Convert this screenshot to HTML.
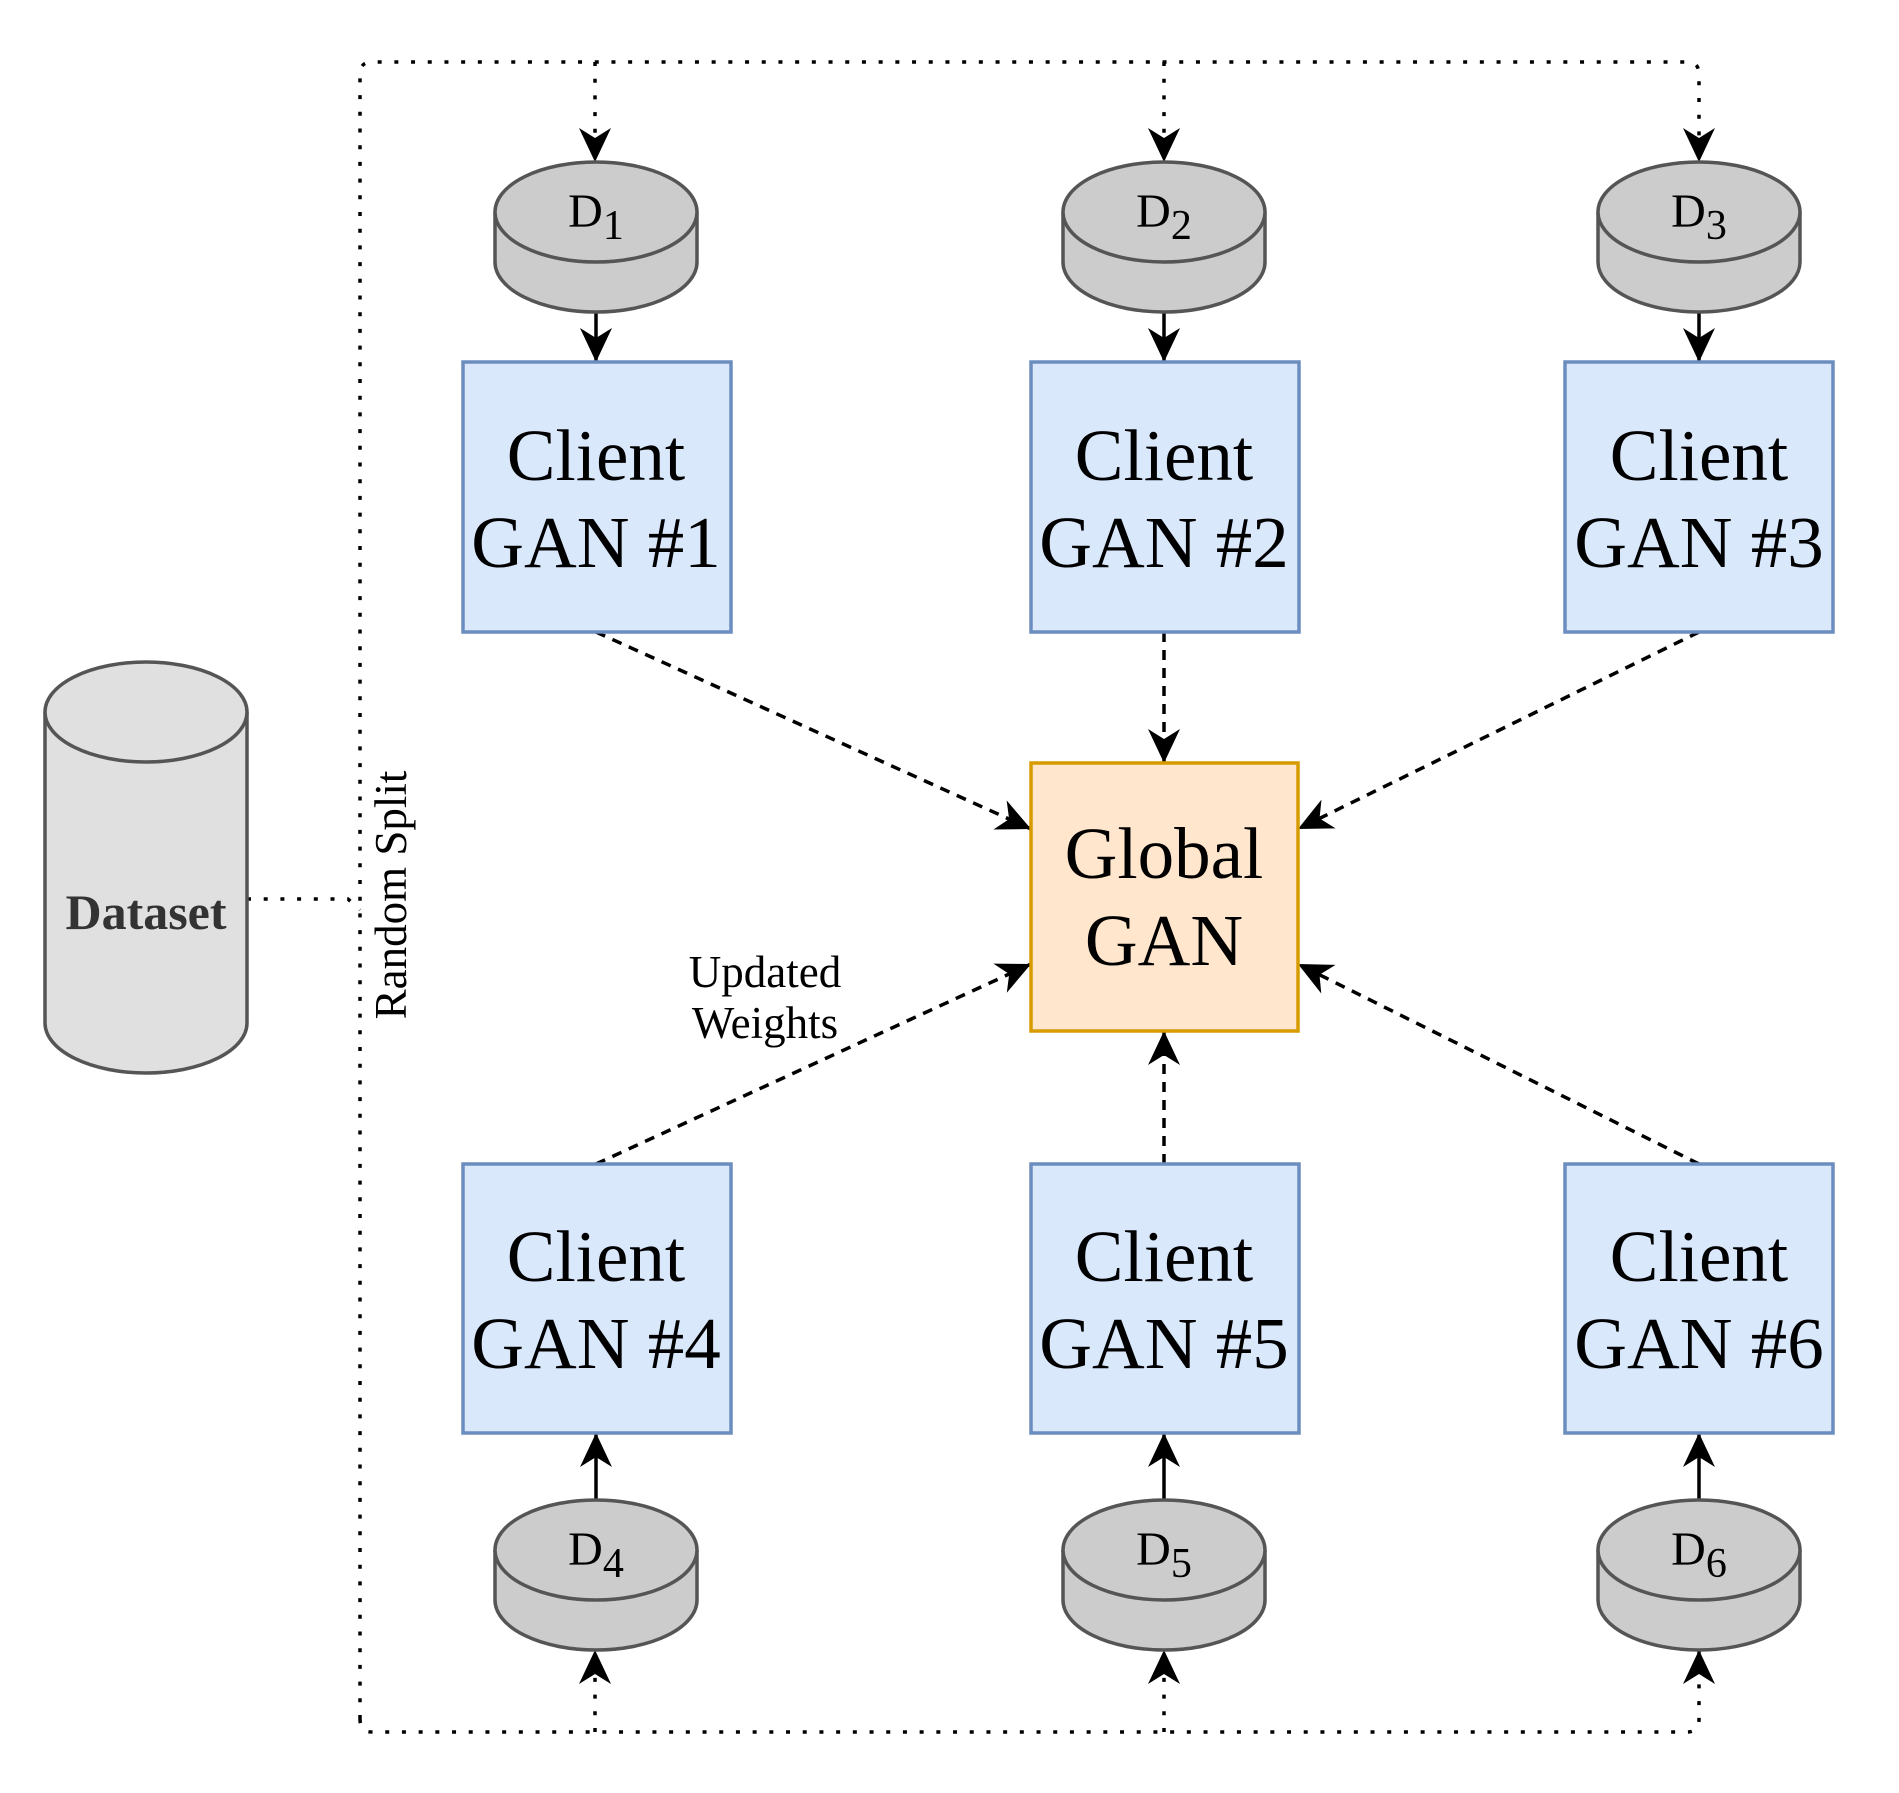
<!DOCTYPE html>
<html><head><meta charset="utf-8"><style>html,body{margin:0;padding:0;background:#fff}svg{display:block}</style></head>
<body>
<svg width="1899" height="1793" viewBox="0 0 1899 1793" xmlns="http://www.w3.org/2000/svg" font-family="'Liberation Serif', serif">
<defs>
<marker id="a" markerUnits="userSpaceOnUse" markerWidth="40" markerHeight="40" refX="34" refY="17" orient="auto">
<path d="M0,1 L34,17 L0,33 L10,17 Z" fill="#000"/>
</marker>
</defs>
<g fill="none" stroke="#000" stroke-width="3.5" stroke-dasharray="4 12.7">
<path d="M595,62 V162" marker-end="url(#a)"/>
<path d="M1164,62 V162" marker-end="url(#a)"/>
<path d="M360,1719 V74 Q360,62 372,62 H1687 Q1699,62 1699,74 V162" marker-end="url(#a)"/>
<path d="M360,1719 Q360,1732 372,1732 H1687 Q1699,1732 1699,1720 V1650" marker-end="url(#a)"/>
<path d="M595,1732 V1650" marker-end="url(#a)"/>
<path d="M1164,1732 V1650" marker-end="url(#a)"/>
<path d="M247,899 H348 L360,910"/>
</g>
<g stroke="#000" stroke-width="3.5" fill="none">
<path d="M596,312 V362" marker-end="url(#a)"/>
<path d="M1164,312 V362" marker-end="url(#a)"/>
<path d="M1699,312 V362" marker-end="url(#a)"/>
<path d="M596,1500 V1433" marker-end="url(#a)"/>
<path d="M1164,1500 V1433" marker-end="url(#a)"/>
<path d="M1699,1500 V1433" marker-end="url(#a)"/>
</g>
<g stroke="#000" stroke-width="3.5" fill="none" stroke-dasharray="10 8">
<path d="M596,632 L1031,829" marker-end="url(#a)"/>
<path d="M1164,632 V763" marker-end="url(#a)"/>
<path d="M1699,632 L1298,829" marker-end="url(#a)"/>
<path d="M596,1164 L1031,964" marker-end="url(#a)"/>
<path d="M1164,1164 V1031" marker-end="url(#a)"/>
<path d="M1699,1164 L1298,964" marker-end="url(#a)"/>
</g>
<g fill="#dae8fc" stroke="#6c8ebf" stroke-width="3.5">
<rect x="463" y="362" width="268" height="270"/>
<rect x="1031" y="362" width="268" height="270"/>
<rect x="1565" y="362" width="268" height="270"/>
<rect x="463" y="1164" width="268" height="269"/>
<rect x="1031" y="1164" width="268" height="269"/>
<rect x="1565" y="1164" width="268" height="269"/>
</g>
<rect x="1031" y="763" width="267" height="268" fill="#ffe6cc" stroke="#d79b00" stroke-width="3.5"/>
<g font-size="73" text-anchor="middle" fill="#000">
<text x="596" y="480">Client</text><text x="596" y="567">GAN #1</text>
<text x="1164" y="480">Client</text><text x="1164" y="567">GAN #2</text>
<text x="1699" y="480">Client</text><text x="1699" y="567">GAN #3</text>
<text x="596" y="1281">Client</text><text x="596" y="1368">GAN #4</text>
<text x="1164" y="1281">Client</text><text x="1164" y="1368">GAN #5</text>
<text x="1699" y="1281">Client</text><text x="1699" y="1368">GAN #6</text>
<text x="1164" y="878">Global</text><text x="1164" y="965">GAN</text>
</g>
<g fill="#cccccc" stroke="#555" stroke-width="3.5">
<path d="M495,212 V262 A101,50 0 0 0 697,262 V212"/><ellipse cx="596" cy="212" rx="101" ry="50"/>
<path d="M1063,212 V262 A101,50 0 0 0 1265,262 V212"/><ellipse cx="1164" cy="212" rx="101" ry="50"/>
<path d="M1598,212 V262 A101,50 0 0 0 1800,262 V212"/><ellipse cx="1699" cy="212" rx="101" ry="50"/>
<path d="M495,1550 V1600 A101,50 0 0 0 697,1600 V1550"/><ellipse cx="596" cy="1550" rx="101" ry="50"/>
<path d="M1063,1550 V1600 A101,50 0 0 0 1265,1600 V1550"/><ellipse cx="1164" cy="1550" rx="101" ry="50"/>
<path d="M1598,1550 V1600 A101,50 0 0 0 1800,1600 V1550"/><ellipse cx="1699" cy="1550" rx="101" ry="50"/>
</g>
<g font-size="48" text-anchor="middle" fill="#000">
<text x="596" y="227">D<tspan font-size="42" dy="12">1</tspan></text>
<text x="1164" y="227">D<tspan font-size="42" dy="12">2</tspan></text>
<text x="1699" y="227">D<tspan font-size="42" dy="12">3</tspan></text>
<text x="596" y="1565">D<tspan font-size="42" dy="12">4</tspan></text>
<text x="1164" y="1565">D<tspan font-size="42" dy="12">5</tspan></text>
<text x="1699" y="1565">D<tspan font-size="42" dy="12">6</tspan></text>
</g>
<path d="M45,712 V1023 A101,50 0 0 0 247,1023 V712" fill="#e0e0e0" stroke="#555" stroke-width="3.5"/>
<ellipse cx="146" cy="712" rx="101" ry="50" fill="#e0e0e0" stroke="#555" stroke-width="3.5"/>
<text x="146" y="929" font-size="50" font-weight="bold" text-anchor="middle" fill="#333">Dataset</text>
<text x="0" y="0" font-size="45" text-anchor="middle" transform="translate(406,895) rotate(-90)">Random Split</text>
<g font-size="45" text-anchor="middle"><text x="765" y="987">Updated</text><text x="765" y="1038">Weights</text></g>
</svg>
</body></html>
